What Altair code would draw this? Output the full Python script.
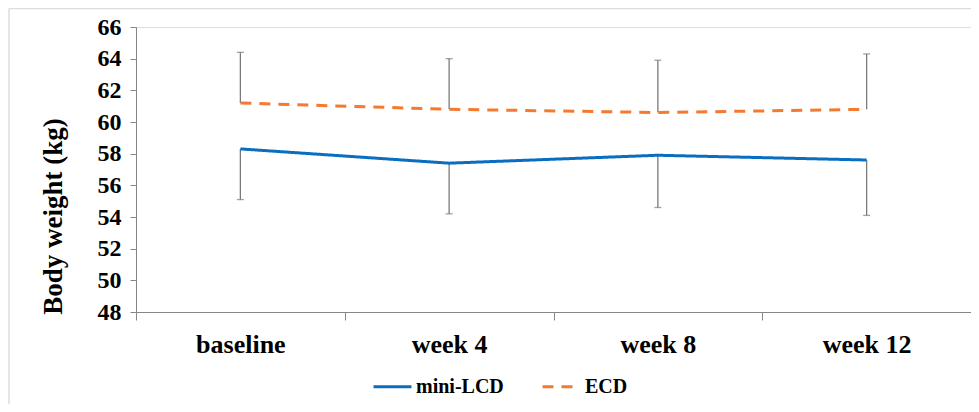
import altair as alt
import pandas as pd

categories = ["baseline", "week 4", "week 8", "week 12"]
series_names = ["mini-LCD", "ECD"]
mini_lcd = [58.3, 57.4, 57.9, 57.6]
mini_lcd_err_end = [55.1, 54.2, 54.6, 54.1]
ecd = [61.2, 60.8, 60.6, 60.8]
ecd_err_end = [64.4, 64.0, 63.9, 64.3]
y_ticks = [48, 50, 52, 54, 56, 58, 60, 62, 64, 66]

rows = []
for c, v, e in zip(categories, mini_lcd, mini_lcd_err_end):
    rows.append({"cat": c, "series": "mini-LCD", "value": v, "err": e})
for c, v, e in zip(categories, ecd, ecd_err_end):
    rows.append({"cat": c, "series": "ECD", "value": v, "err": e})
df = pd.DataFrame(rows)

FONT = "Liberation Serif"
AX = "#868686"
ERR = "#7a7a7a"

x_enc = alt.X(
    "cat:N",
    sort=categories,
    scale=alt.Scale(paddingInner=0, paddingOuter=0),
    axis=alt.Axis(
        title=None, labelAngle=0, tickBand="extent", labelFont=FONT,
        labelFontSize=26, labelFontWeight="bold", labelColor="black",
        labelPadding=11, tickSize=8, tickColor=AX, domainColor=AX,
        labelOverlap=False,
    ),
)
y_scale = alt.Scale(domain=[48, 66], nice=False, zero=False)
y_axis = alt.Axis(
    values=y_ticks, grid=False, title="Body weight (kg)",
    titleFont=FONT, titleFontSize=27, titleFontWeight="bold", titleColor="black",
    titleAngle=270, titleX=-83, titleY=189, titleAlign="center", titleBaseline="middle",
    labelFont=FONT, labelFontSize=24, labelFontWeight="bold", labelColor="black",
    labelPadding=9, tickSize=6, tickColor=AX, domainColor=AX,
    labelOverlap=False,
)
y_enc = alt.Y("value:Q", scale=y_scale, axis=y_axis)

base = alt.Chart(df)

err_rules = base.mark_rule(color=ERR, strokeWidth=1.3).encode(
    x=x_enc, y=y_enc, y2=alt.Y2("err:Q")
)
err_caps = base.mark_tick(color=ERR, size=7, thickness=1.3).encode(
    x=x_enc, y=alt.Y("err:Q", scale=y_scale, axis=y_axis)
)

legend_kw = dict(
    title=None, orient="none", direction="horizontal",
    legendX=236, legendY=339, symbolType="stroke", symbolSize=1444,
    symbolStrokeWidth=3, labelFont=FONT, labelFontSize=20,
    labelFontWeight="bold", labelColor="black", columnPadding=32,
    labelOffset=3, padding=0,
)

lines = base.mark_line(strokeWidth=3).encode(
    x=x_enc,
    y=y_enc,
    color=alt.Color(
        "series:N",
        scale=alt.Scale(domain=series_names, range=["#0A6EC0", "#F47A30"]),
        legend=alt.Legend(**legend_kw),
    ),
    strokeDash=alt.StrokeDash(
        "series:N",
        scale=alt.Scale(domain=series_names, range=[[1, 0], [11, 8]]),
        legend=alt.Legend(**legend_kw),
    ),
)

frame_top = alt.Chart(pd.DataFrame({"k": [0]})).mark_rule(
    color="#d9dde3", strokeWidth=1.5
).encode(x=alt.value(-127), x2=alt.value(835), y=alt.value(-18.5))
frame_left = alt.Chart(pd.DataFrame({"k": [0]})).mark_rule(
    color="#d9dde3", strokeWidth=1.5
).encode(x=alt.value(-127), y=alt.value(-18.5), y2=alt.value(377))

chart = alt.layer(frame_top, frame_left, err_rules, err_caps, lines).properties(
    width=835, height=285,
    autosize=alt.AutoSizeParams(type="none"),
    padding={"left": 128, "top": 19, "right": 0, "bottom": 92},
).configure_view(stroke=None).configure(background="white")

chart.save("out.html", embed_options={"renderer": "svg", "actions": False})
